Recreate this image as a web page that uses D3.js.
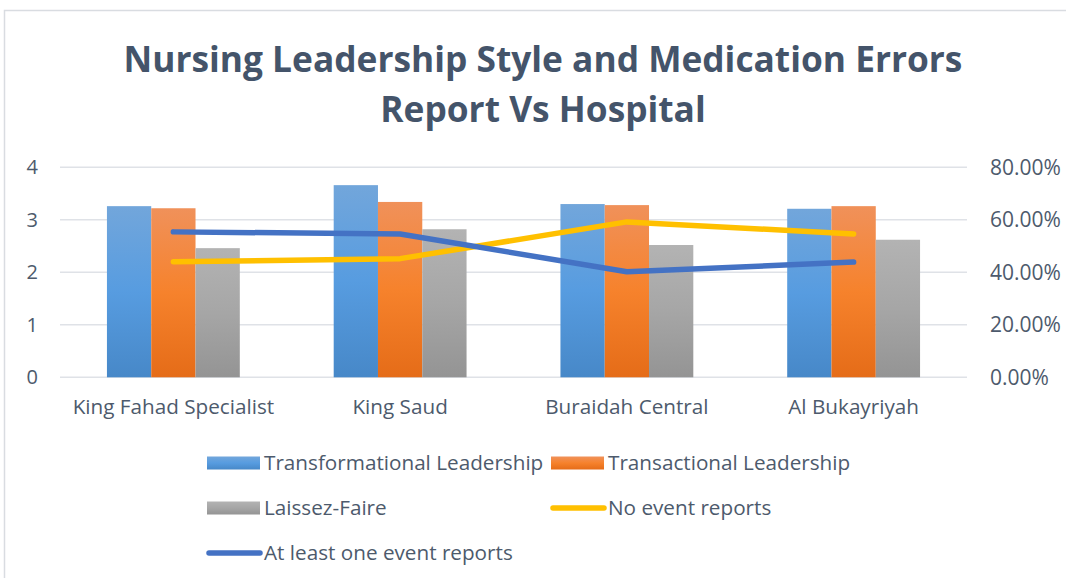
<!DOCTYPE html>
<html>
<head>
<meta charset="utf-8">
<script src="https://cdn.jsdelivr.net/npm/d3@7"></script>
<style>
  html, body { margin: 0; padding: 0; background: #fff; }
  svg { display: block; font-family: "Open Sans", Lato, sans-serif; }
</style>
</head>
<body>
<div id="chart"></div>
<script>
// hospitals on the x axis
const hospitals = ["King Fahad Specialist", "King Saud", "Buraidah Central", "Al Bukayriyah"];

// bar series (left axis, mean score)
const barSeries = ["Transformational Leadership", "Transactional Leadership", "Laissez-Faire"];
const transformational = [3.26, 3.66, 3.30, 3.21];
const transactional = [3.22, 3.34, 3.28, 3.26];
const laissezFaire = [2.46, 2.82, 2.52, 2.62];

// line series (right axis, share of nurses)
const noEvent = [0.440, 0.452, 0.592, 0.546];
const atLeastOne = [0.554, 0.546, 0.402, 0.439];

const leftTicks = [0, 1, 2, 3, 4];
const rightTicks = [0, 0.2, 0.4, 0.6, 0.8];

const W = 1066, H = 578;
const plot = { left: 60, right: 967, top: 167.3, bottom: 377.3 };
const textColor = "#4d5a6c";
const font = "'Open Sans', sans-serif";

const svg = d3.select("#chart").append("svg")
    .attr("width", W)
    .attr("height", H);

// gradients for the bars, like the office fill
const defs = svg.append("defs");
const gradStops = [
    ["#72a6db", "#579ce0", "#4788c8"],
    ["#f0915a", "#f6822c", "#e56c18"],
    ["#b3b3b3", "#a6a6a6", "#949494"]
];
gradStops.forEach((s, i) => {
    const g = defs.append("linearGradient")
        .attr("id", "grad" + i)
        .attr("x1", 0).attr("y1", 0).attr("x2", 0).attr("y2", 1);
    g.append("stop").attr("offset", "0%").attr("stop-color", s[0]);
    g.append("stop").attr("offset", "50%").attr("stop-color", s[1]);
    g.append("stop").attr("offset", "100%").attr("stop-color", s[2]);
});

// chart border
svg.append("rect")
    .attr("x", 4.5).attr("y", 10.5)
    .attr("width", 1100).attr("height", 700)
    .attr("fill", "none")
    .attr("stroke", "#d9dce1")
    .attr("stroke-width", 1.5);

// title
const title = svg.append("text")
    .attr("text-anchor", "middle")
    .attr("fill", "#44546a")
    .attr("font-weight", "bold")
    .attr("font-size", 35.3)
    .attr("font-family", font);
title.append("tspan").attr("x", 543).attr("y", 72).text("Nursing Leadership Style and Medication Errors");
title.append("tspan").attr("x", 543).attr("y", 122).text("Report Vs Hospital");

// scales
const x = d3.scaleBand()
    .domain(hospitals)
    .range([plot.left, plot.right]);

const yLeft = d3.scaleLinear()
    .domain([0, 4])
    .range([plot.bottom, plot.top]);

const yRight = d3.scaleLinear()
    .domain([0, 0.8])
    .range([plot.bottom, plot.top]);

const xInner = d3.scaleBand()
    .domain(barSeries)
    .range([0, x.bandwidth()])
    .paddingOuter(1.06);

// gridlines
svg.append("g")
    .selectAll("line")
    .data(leftTicks)
    .enter()
    .append("line")
    .attr("x1", plot.left)
    .attr("x2", plot.right)
    .attr("y1", d => yLeft(d))
    .attr("y2", d => yLeft(d))
    .attr("stroke", "#dfe2e7")
    .attr("stroke-width", 1.5);

// left axis
const leftAxis = svg.append("g")
    .attr("transform", `translate(${plot.left - 22},0)`)
    .call(d3.axisLeft(yLeft).tickValues(leftTicks).tickSize(0).tickPadding(0)
        .tickFormat(d3.format("d")));
leftAxis.select(".domain").remove();
leftAxis.selectAll("text")
    .attr("fill", textColor)
    .attr("font-size", 20)
    .attr("font-family", font);

// right axis
const rightAxis = svg.append("g")
    .attr("transform", `translate(${plot.right + 23},0)`)
    .call(d3.axisRight(yRight).tickValues(rightTicks).tickSize(0).tickPadding(0)
        .tickFormat(d3.format(".2%")));
rightAxis.select(".domain").remove();
rightAxis.selectAll("text")
    .attr("fill", textColor)
    .attr("font-size", 21)
    .attr("font-family", font);

// category axis
const bottomAxis = svg.append("g")
    .attr("transform", `translate(0,${plot.bottom})`)
    .call(d3.axisBottom(x).tickSize(0).tickPadding(22));
bottomAxis.select(".domain").remove();
bottomAxis.selectAll("text")
    .attr("fill", textColor)
    .attr("font-size", 20.7)
    .attr("font-family", font);

// bars
const barValues = [transformational, transactional, laissezFaire];
const barRows = hospitals.map((h, i) => ({
    hospital: h,
    values: barSeries.map((s, j) => ({ series: s, idx: j, value: barValues[j][i] }))
}));

svg.append("g")
    .selectAll("g")
    .data(barRows)
    .enter()
    .append("g")
    .attr("transform", d => `translate(${x(d.hospital)},0)`)
    .selectAll("rect")
    .data(d => d.values)
    .enter()
    .append("rect")
    .attr("x", d => xInner(d.series))
    .attr("width", xInner.bandwidth())
    .attr("y", d => yLeft(d.value))
    .attr("height", d => yLeft(0) - yLeft(d.value))
    .attr("fill", d => `url(#grad${d.idx})`);

// lines
const line = d3.line()
    .x((d, i) => x(hospitals[i]) + x.bandwidth() / 2)
    .y(d => yRight(d));

const lineSeries = [
    { name: "No event reports", values: noEvent, color: "#ffc000" },
    { name: "At least one event reports", values: atLeastOne, color: "#4472c4" }
];

svg.append("g")
    .selectAll("path")
    .data(lineSeries)
    .enter()
    .append("path")
    .attr("d", d => line(d.values))
    .attr("fill", "none")
    .attr("stroke", d => d.color)
    .attr("stroke-width", 5.5)
    .attr("stroke-linecap", "round")
    .attr("stroke-linejoin", "round");

// legend
const legendItems = [
    { name: barSeries[0], type: "bar", fill: "url(#grad0)", x: 207, y: 463 },
    { name: barSeries[1], type: "bar", fill: "url(#grad1)", x: 551, y: 463 },
    { name: barSeries[2], type: "bar", fill: "url(#grad2)", x: 207, y: 508 },
    { name: lineSeries[0].name, type: "line", fill: lineSeries[0].color, x: 551, y: 508 },
    { name: lineSeries[1].name, type: "line", fill: lineSeries[1].color, x: 207, y: 553 }
];

const legend = svg.append("g")
    .selectAll("g")
    .data(legendItems)
    .enter()
    .append("g")
    .attr("transform", d => `translate(${d.x},${d.y})`);

legend.filter(d => d.type === "bar")
    .append("rect")
    .attr("x", 0).attr("y", -6.5)
    .attr("width", 53).attr("height", 13)
    .attr("fill", d => d.fill);

legend.filter(d => d.type === "line")
    .append("line")
    .attr("x1", 2).attr("x2", 53)
    .attr("stroke", d => d.fill)
    .attr("stroke-width", 5.5)
    .attr("stroke-linecap", "round");

legend.append("text")
    .attr("x", 57)
    .attr("dy", "0.35em")
    .attr("fill", textColor)
    .attr("font-size", 20.7)
    .attr("font-family", font)
    .text(d => d.name);
</script>
</body>
</html>
